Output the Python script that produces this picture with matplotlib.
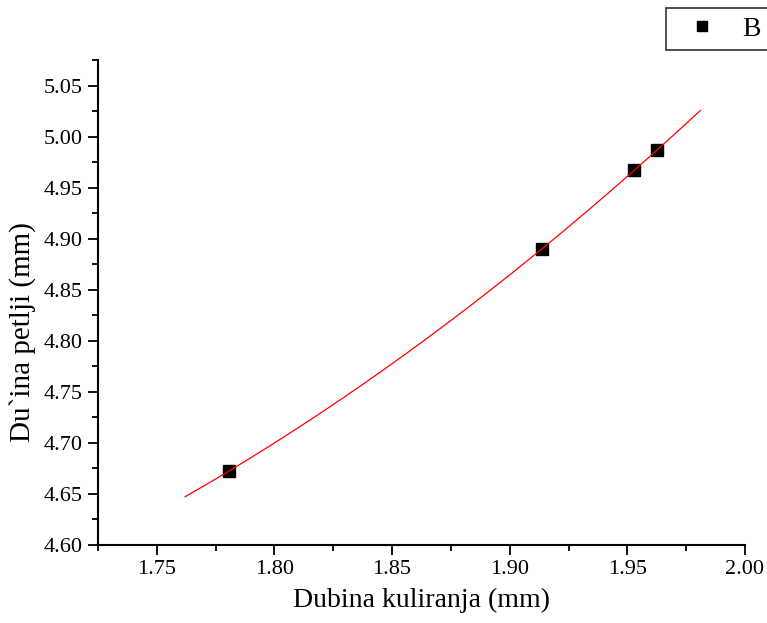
import numpy as np
import matplotlib
matplotlib.use("Agg")
import matplotlib.pyplot as plt
from matplotlib.ticker import MultipleLocator, FormatStrFormatter

# Data
depth_mm = [1.7807, 1.9137, 1.9528, 1.9628]
loop_len_mm = [4.6725, 4.890, 4.967, 4.987]
fit_x_range = [1.762, 1.981]
series_label = "B"
x_label = "Dubina kuliranja (mm)"
y_label = "Du`ina petlji (mm)"

plt.rcParams['font.family'] = ['Liberation Serif', 'DejaVu Serif']

fig = plt.figure(figsize=(7.67, 6.23), dpi=100)
ax = fig.add_axes([98/767, 1-545/623, (745-98)/767, (545-60)/623])

# quadratic fit of the data
coef = np.polyfit(depth_mm, loop_len_mm, 2)
xf = np.linspace(fit_x_range[0], fit_x_range[1], 200)
ax.plot(xf, np.polyval(coef, xf), color='red', lw=0.9, zorder=3)
ax.plot(depth_mm, loop_len_mm, linestyle='none', marker='s', ms=8,
        color='black', zorder=2, label=series_label)

ax.set_xlim(1.725, 2.00)
ax.set_ylim(4.60, 5.075)
ax.xaxis.set_major_locator(MultipleLocator(0.05))
ax.xaxis.set_minor_locator(MultipleLocator(0.025))
ax.yaxis.set_major_locator(MultipleLocator(0.05))
ax.yaxis.set_minor_locator(MultipleLocator(0.025))
ax.xaxis.set_major_formatter(FormatStrFormatter('%.2f'))
ax.yaxis.set_major_formatter(FormatStrFormatter('%.2f'))

for s in ['top', 'right']:
    ax.spines[s].set_visible(False)
for s in ['left', 'bottom']:
    ax.spines[s].set_linewidth(1.5)

ax.tick_params(which='major', direction='out', length=7, width=1.3, labelsize=16, pad=4)
ax.tick_params(which='minor', direction='out', length=4, width=1.3)

ax.set_xlabel(x_label, fontsize=20, labelpad=6)
ax.set_ylabel(y_label, fontsize=21)
ax.yaxis.set_label_coords(-62/647, (545-332)/485)

leg = fig.legend(handles=ax.get_legend_handles_labels()[0],
                 labels=ax.get_legend_handles_labels()[1],
                 loc='upper left', bbox_to_anchor=(666/767, 1-8/623),
                 bbox_transform=fig.transFigure, fontsize=20, frameon=True,
                 fancybox=False, borderpad=0.3, handletextpad=0.45,
                 markerscale=0.9, borderaxespad=0)
leg.get_frame().set_edgecolor('black')
leg.get_frame().set_linewidth(1.2)

fig.savefig('out.png', dpi=100)
